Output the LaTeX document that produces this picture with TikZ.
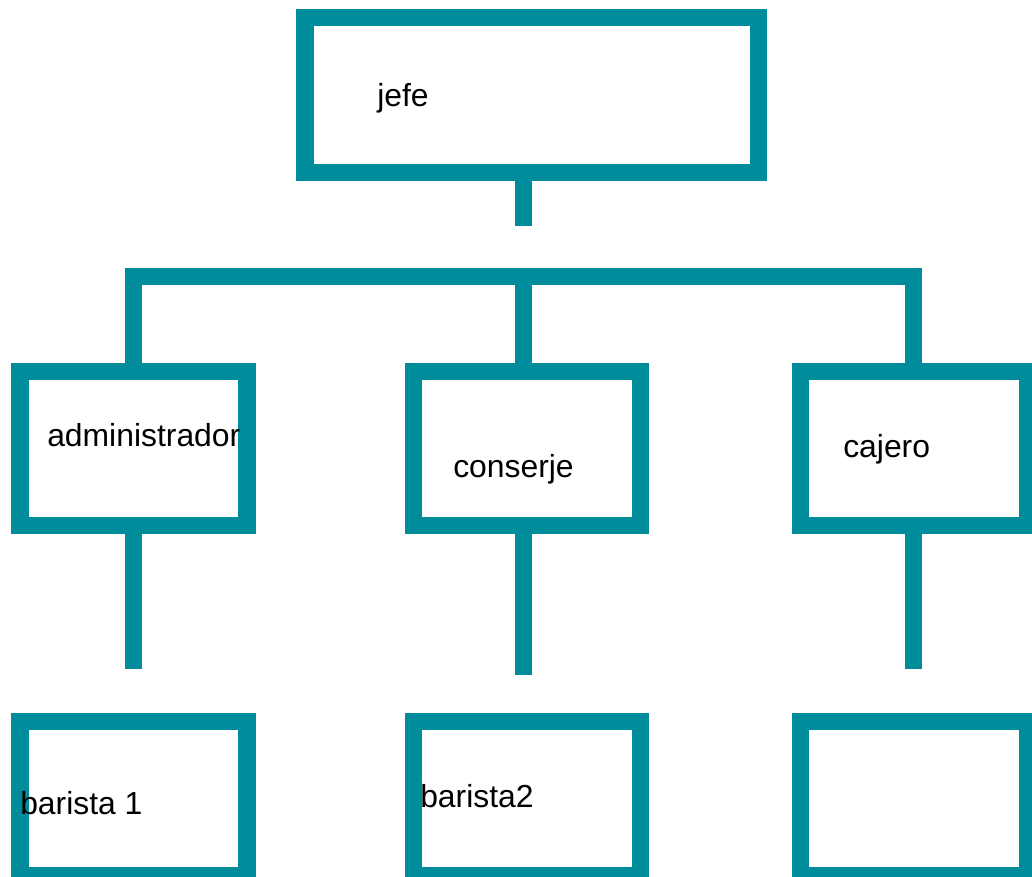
\documentclass[tikz,border=0pt]{standalone}
\usepackage{fontspec}
\setmainfont{Liberation Sans}
\usetikzlibrary{positioning}
\definecolor{orgteal}{RGB}{0,140,155}
\tikzstyle{post} = [rectangle, draw=orgteal, line width=13.1pt, minimum width=170.3pt, minimum height=115.5pt, inner sep=0pt]
\tikzstyle{boss} = [post, minimum width=340.1pt, minimum height=115.9pt]
\tikzstyle{roletext} = [anchor=base west, inner sep=0pt, font=\fontsize{23.9}{28}\selectfont]
\tikzstyle{link} = [draw=orgteal, line width=13.1pt]

\begin{document}
\begin{tikzpicture}[x=0.75pt, y=-0.75pt]
\useasboundingbox (0,0) rectangle (1032,877);

% Boxes
\node (jefe) [boss] at (531.5,95) {};
\node (admin) [post] at (133.5,448.5) {};
\node (conserje) [post] at (527,448.5) {};
\node (cajero) [post] at (914,448.5) {};
\node (barista1) [post] at (133.5,798.75) {};
\node (barista2) [post] at (527,798.75) {};
\node (vacante) [post] at (914,798.75) {};

% Free ends and bar corners
\coordinate (jefe_end) at (523.5,226);
\coordinate (bar_l) at (133.5,276.5);
\coordinate (bar_m) at (523.5,276.5);
\coordinate (bar_r) at (913.5,276.5);
\coordinate (admin_end) at (133.5,669);
\coordinate (conserje_end) at (523.5,675);
\coordinate (cajero_end) at (913.5,669);

% Connectors
\draw [link] (jefe_end |- jefe.south) -- (jefe_end);
\draw [link] (admin.north) -- (bar_l) -- (bar_r) -- (bar_r |- cajero.north);
\draw [link] (bar_m) -- (bar_m |- conserje.north);
\draw [link] (admin.south) -- (admin_end);
\draw [link] (conserje_end |- conserje.south) -- (conserje_end);
\draw [link] (cajero_end |- cajero.south) -- (cajero_end);

% Texts
\node (t_jefe) [roletext] at (377,107) {jefe};
\node (t_admin) [roletext] at (47,446) {administrador};
\node (t_conserje) [roletext] at (453,477) {conserje};
\node (t_cajero) [roletext] at (843,457) {cajero};
\node (t_barista1) [roletext] at (20,814) {barista 1};
\node (t_barista2) [roletext] at (420,807) {barista2};

\end{tikzpicture}
\end{document}
